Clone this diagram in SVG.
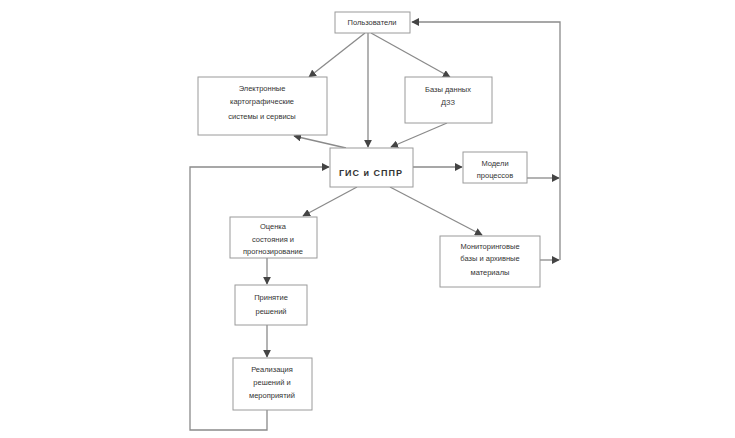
<svg xmlns="http://www.w3.org/2000/svg" width="735" height="438" viewBox="0 0 735 438">
<style>
.box{fill:#fff;stroke:#9a9a9a;stroke-width:1}
.t{font-family:"Liberation Sans",Arial,sans-serif;font-size:7.5px;fill:#333;text-anchor:middle}
.tb{font-family:"Liberation Sans",Arial,sans-serif;font-size:9px;font-weight:bold;fill:#333;text-anchor:middle;letter-spacing:1px}
.c{fill:none;stroke:#8a8a8a;stroke-width:1.3}
</style>
<defs>
<marker id="a" viewBox="0 0 10 10" refX="9" refY="5" markerWidth="6" markerHeight="6" orient="auto">
<path d="M0,0 L10,5 L0,10 z" fill="#444"/>
</marker>
</defs>
<rect width="735" height="438" fill="#fff"/>
<g id="connectors">
<line class="c" x1="365" y1="33" x2="309" y2="77" marker-end="url(#a)"/>
<line class="c" x1="371" y1="33" x2="450" y2="77" marker-end="url(#a)"/>
<line class="c" x1="368" y1="33" x2="368" y2="147" marker-end="url(#a)"/>
<line class="c" x1="346" y1="148" x2="294" y2="136" marker-end="url(#a)"/>
<line class="c" x1="447" y1="123" x2="391" y2="147" marker-end="url(#a)"/>
<line class="c" x1="413" y1="167" x2="462" y2="167" marker-end="url(#a)"/>
<line class="c" x1="527" y1="178" x2="559" y2="178" marker-end="url(#a)"/>
<line class="c" x1="540" y1="260" x2="559" y2="260" marker-end="url(#a)"/>
<polyline class="c" points="560,260 560,22 412,22" marker-end="url(#a)"/>
<line class="c" x1="357" y1="187" x2="303" y2="216" marker-end="url(#a)"/>
<line class="c" x1="390" y1="187" x2="482" y2="235" marker-end="url(#a)"/>
<line class="c" x1="267" y1="258" x2="267" y2="284" marker-end="url(#a)"/>
<line class="c" x1="267" y1="325" x2="267" y2="357" marker-end="url(#a)"/>
<polyline class="c" points="267,410 267,430 190,430 190,167 329,167" marker-end="url(#a)"/>
</g>
<g id="n-top">
<rect class="box" x="335" y="12" width="75" height="21"/>
<text class="t" x="372" y="25">Пользователи</text>
</g>
<g id="n-left">
<rect class="box" x="198" y="77" width="129" height="58"/>
<text class="t" x="262" y="91">Электронные</text>
<text class="t" x="262" y="104">картографические</text>
<text class="t" x="262" y="119">системы и сервисы</text>
</g>
<g id="n-right">
<rect class="box" x="405" y="77" width="87" height="46"/>
<text class="t" x="448" y="92">Базы данных</text>
<text class="t" x="448" y="105">ДЗЗ</text>
</g>
<g id="n-center">
<rect class="box" x="330" y="148" width="83" height="39"/>
<text class="tb" x="371" y="176">ГИС и СППР</text>
</g>
<g id="n-model">
<rect class="box" x="463" y="152" width="64" height="31"/>
<text class="t" x="495" y="166">Модели</text>
<text class="t" x="495" y="178">процессов</text>
</g>
<g id="n-leftmid">
<rect class="box" x="230" y="217" width="87" height="41"/>
<text class="t" x="273" y="229">Оценка</text>
<text class="t" x="273" y="242">состояния и</text>
<text class="t" x="273" y="254">прогнозирование</text>
</g>
<g id="n-rightlow">
<rect class="box" x="440" y="236" width="100" height="51"/>
<text class="t" x="490" y="249">Мониторинговые</text>
<text class="t" x="490" y="261">базы и архивные</text>
<text class="t" x="490" y="275">материалы</text>
</g>
<g id="n-decision">
<rect class="box" x="235" y="285" width="72" height="40"/>
<text class="t" x="271" y="300">Принятие</text>
<text class="t" x="271" y="314">решений</text>
</g>
<g id="n-impl">
<rect class="box" x="233" y="358" width="79" height="52"/>
<text class="t" x="272" y="372">Реализация</text>
<text class="t" x="272" y="385">решений и</text>
<text class="t" x="272" y="398">мероприятий</text>
</g>
</svg>
